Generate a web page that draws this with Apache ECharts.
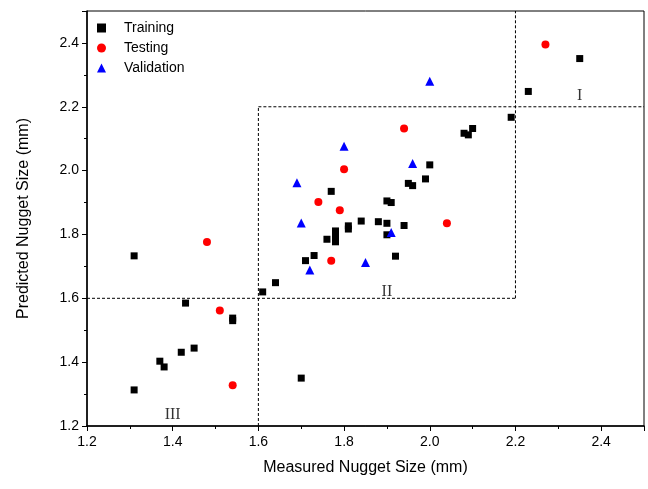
<!DOCTYPE html>
<html><head><meta charset="utf-8">
<script src="https://cdn.jsdelivr.net/npm/echarts@6/dist/echarts.min.js"></script>
<style>html,body{margin:0;padding:0;background:#fff}#c{width:648px;height:489px}</style>
</head><body><div id="c"></div>
<script>
var trainX = [1.31,1.43,1.54,1.54,1.45,1.42,1.37,1.38,1.31,1.70,1.61,1.64,1.71,1.73,1.76,1.78,1.78,1.78,1.81,1.81,1.84,1.88,1.90,1.90,1.94,1.92,2.35,2.23,2.19,2.08,2.09,2.10,2.00,1.99,1.95,1.96,1.90,1.91,1.77];
var trainY = [1.733,1.585,1.530,1.538,1.444,1.431,1.403,1.385,1.313,1.350,1.620,1.649,1.718,1.734,1.785,1.811,1.792,1.777,1.827,1.817,1.842,1.840,1.835,1.799,1.828,1.732,2.351,2.248,2.167,2.117,2.112,2.132,2.018,1.974,1.960,1.953,1.905,1.900,1.935];
var testX = [2.27,1.94,2.04,1.80,1.74,1.79,1.48,1.51,1.54,1.77];
var testY = [2.395,2.132,1.835,2.004,1.902,1.876,1.776,1.562,1.328,1.718];
var valX = [2.00,1.80,1.69,1.70,1.96,1.72,1.85,1.91];
var valY = [2.280,2.076,1.962,1.836,2.022,1.689,1.712,1.806];
var xTicks = [1.2,1.4,1.6,1.8,2.0,2.2,2.4];
var yTicks = [1.2,1.4,1.6,1.8,2.0,2.2,2.4];
// region boundaries (dashed)
var boundaryLines = [
  [[2.2,1.6],[2.2,2.5]],
  [[1.6,2.2],[2.5,2.2]],
  [[1.6,1.2],[1.6,2.2]],
  [[1.2,1.6],[2.2,1.6]]
];
var regionLabels = [["I",2.35,2.235],["II",1.90,1.62],["III",1.4,1.235]];

function zip(a,b){return a.map(function(v,i){return [v,b[i]];});}
var chart = echarts.init(document.getElementById('c'));
var axisLbl = {color:'#000', fontFamily:'Liberation Sans, Arial', fontSize:14};
var series = [
  {name:'Training', type:'scatter', symbol:'rect', symbolSize:7, itemStyle:{color:'#000', opacity:1}, data:zip(trainX,trainY), z:5},
  {name:'Testing', type:'scatter', symbol:'circle', symbolSize:8, itemStyle:{color:'#ff0000', opacity:1}, data:zip(testX,testY), z:5},
  {name:'Validation', type:'scatter', symbol:'triangle', symbolSize:9, itemStyle:{color:'#0000ff', opacity:1}, data:zip(valX,valY), z:5}
];
boundaryLines.forEach(function(l){
  series.push({type:'line', data:l, symbol:'none', silent:true, lineStyle:{color:'#000', width:1, type:[3,2]}, z:2});
});
series.push({type:'scatter', symbolSize:0, silent:true, data:regionLabels.map(function(r){return {value:[r[1],r[2]], name:r[0]};}),
  label:{show:true, position:'inside', formatter:function(p){return p.name;}, color:'#000', fontFamily:'Liberation Serif, Times New Roman', fontSize:16}});
chart.setOption({
  animation:false,
  backgroundColor:'#fff',
  grid:{left:87, right:4, top:11, bottom:63, show:true, borderColor:'#000', borderWidth:1},
  legend:{orient:'vertical', left:92, top:16, itemGap:6, itemWidth:9, itemHeight:9,
    data:[{name:'Training'},{name:'Testing'},{name:'Validation'}],
    textStyle:{color:'#000', fontFamily:'Liberation Sans, Arial', fontSize:14, padding:[0,0,0,13]}},
  xAxis:{type:'value', min:1.2, max:2.5, interval:0.2,
    name:'Measured Nugget Size (mm)', nameLocation:'middle', nameGap:34,
    nameTextStyle:{color:'#000', fontFamily:'Liberation Sans, Arial', fontSize:16},
    axisLine:{show:true, lineStyle:{color:'#000', width:1.5}},
    axisTick:{show:true, length:5, lineStyle:{color:'#000'}},
    minorTick:{show:true, splitNumber:2, length:3, lineStyle:{color:'#000'}},
    splitLine:{show:false},
    axisLabel:Object.assign({margin:9, formatter:function(v){return xTicks.indexOf(Math.round(v*10)/10)>=0? v.toFixed(1):'';}}, axisLbl)},
  yAxis:{type:'value', min:1.2, max:2.5, interval:0.2,
    name:'Predicted Nugget Size (mm)', nameLocation:'middle', nameGap:55,
    nameTextStyle:{color:'#000', fontFamily:'Liberation Sans, Arial', fontSize:16},
    axisLine:{show:true, lineStyle:{color:'#000', width:1.5}},
    axisTick:{show:true, length:5, lineStyle:{color:'#000'}},
    minorTick:{show:true, splitNumber:2, length:3, lineStyle:{color:'#000'}},
    splitLine:{show:false},
    axisLabel:Object.assign({margin:8, formatter:function(v){return yTicks.indexOf(Math.round(v*10)/10)>=0? v.toFixed(1):'';}}, axisLbl)},
  series:series
});
</script></body></html>
